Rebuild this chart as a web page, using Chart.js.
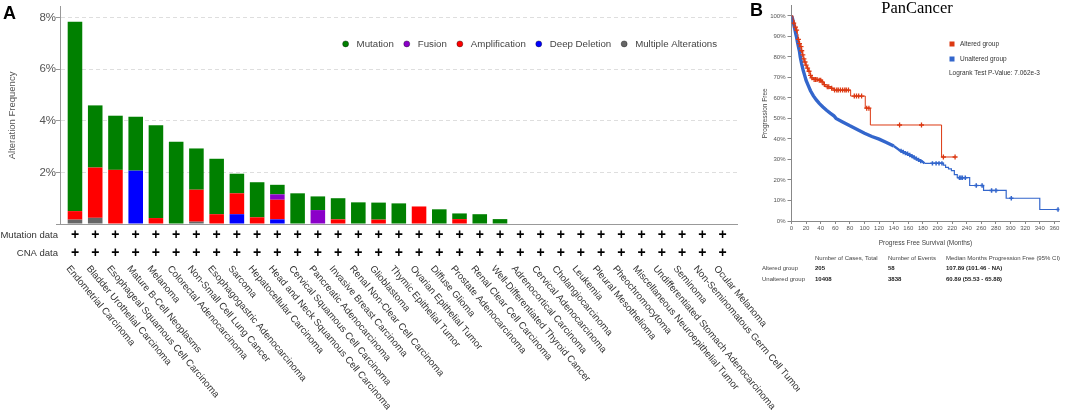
<!DOCTYPE html>
<html>
<head>
<meta charset="utf-8">
<script src="https://cdn.jsdelivr.net/npm/chart.js@4.4.0/dist/chart.umd.min.js"></script>
<style>
  html, body { margin: 0; padding: 0; background: #fff; }
  #wrap { position: relative; width: 1065px; height: 414px; overflow: hidden; }
  #chartA { position: absolute; left: 0; top: 0; }
  #chartB { position: absolute; left: 760px; top: 0; }
  .panel { position: absolute; font: bold 18px 'Liberation Sans', Arial, sans-serif; line-height: 18px; color: #000; }
</style>
</head>
<body>
<div id="wrap">
  <canvas id="chartA" width="800" height="414"></canvas>
  <canvas id="chartB" width="305" height="414"></canvas>
  <div class="panel" style="left:3px;top:4px">A</div>
  <div class="panel" style="left:750px;top:1px">B</div>
</div>
<script>
/*** PANEL A DATA ***/
const cancerTypes = [
  'Endometrial Carcinoma', 'Bladder Urothelial Carcinoma', 'Esophageal Squamous Cell Carcinoma',
  'Mature B-Cell Neoplasms', 'Melanoma', 'Colorectal Adenocarcinoma', 'Non-Small Cell Lung Cancer',
  'Esophagogastric Adenocarcinoma', 'Sarcoma', 'Hepatocellular Carcinoma',
  'Head and Neck Squamous Cell Carcinoma', 'Cervical Squamous Cell Carcinoma',
  'Pancreatic Adenocarcinoma', 'Invasive Breast Carcinoma', 'Renal Non-Clear Cell Carcinoma',
  'Glioblastoma', 'Thymic Epithelial Tumor', 'Ovarian Epithelial Tumor', 'Diffuse Glioma',
  'Prostate Adenocarcinoma', 'Renal Clear Cell Carcinoma', 'Well-Differentiated Thyroid Cancer',
  'Adrenocortical Carcinoma', 'Cervical Adenocarcinoma', 'Cholangiocarcinoma', 'Leukemia',
  'Pleural Mesothelioma', 'Pheochromocytoma', 'Miscellaneous Neuroepithelial Tumor',
  'Undifferentiated Stomach Adenocarcinoma', 'Seminoma', 'Non-Seminomatous Germ Cell Tumor',
  'Ocular Melanoma'
];
const mutation      = [7.34, 2.41, 2.10, 2.09, 3.60, 3.19, 1.60, 2.15, 0.76, 1.36, 0.37, 1.19, 0.53, 0.82, 0.84, 0.66, 0.80, 0, 0.57, 0.22, 0.38, 0.19, 0, 0, 0, 0, 0, 0, 0, 0, 0, 0, 0];
const fusion        = [0, 0, 0, 0, 0, 0, 0, 0, 0, 0, 0.21, 0, 0.54, 0, 0, 0, 0, 0, 0, 0, 0, 0, 0, 0, 0, 0, 0, 0, 0, 0, 0, 0, 0];
const amplification = [0.33, 1.95, 2.10, 0, 0.23, 0, 1.24, 0.38, 0.81, 0.26, 0.76, 0, 0, 0.18, 0, 0.17, 0, 0.68, 0, 0.19, 0, 0, 0, 0, 0, 0, 0, 0, 0, 0, 0, 0, 0];
const deepDeletion  = [0, 0, 0, 2.07, 0, 0, 0, 0, 0.38, 0, 0.18, 0, 0, 0, 0, 0, 0, 0, 0, 0, 0, 0, 0, 0, 0, 0, 0, 0, 0, 0, 0, 0, 0];
const multipleAlt   = [0.17, 0.24, 0, 0, 0, 0, 0.09, 0, 0, 0, 0, 0, 0, 0, 0, 0, 0, 0, 0, 0, 0, 0, 0, 0, 0, 0, 0, 0, 0, 0, 0, 0, 0];
const dataRows = ['Mutation data', 'CNA data'];

/*** PANEL B DATA ***/
const alteredMonths   = [0, 2, 3.5, 5, 6.5, 8, 9, 10.5, 12, 13.5, 15, 16, 17.5, 19, 21, 23.5, 25.5, 27, 30, 36, 41, 44, 47, 53, 57, 81, 101, 108, 205.5, 224];
const alteredSurvival = [100, 98, 96.5, 94.5, 93, 91, 88.5, 86.5, 85, 83, 81, 79, 77.5, 76, 74.5, 73, 71, 69.8, 69, 68.6, 67.8, 66.5, 65.5, 64.7, 63.8, 60.9, 55, 46.8, 31.2, 31.2];
const alteredCensorMonths   = [3, 5.5, 7, 9.5, 11, 13, 14, 15.5, 17, 18.5, 20, 22, 24, 26, 28, 31, 33, 35, 38, 40, 42, 45, 49, 51, 55, 59, 62, 64, 67, 70, 73, 75, 78, 86, 89, 92, 96, 103, 106, 148, 178, 208, 224];
const alteredCensorSurvival = [96.5, 94.5, 93, 88.5, 86.5, 85, 83, 81, 79, 77.5, 76, 74.5, 73, 71, 69.8, 69, 69, 69, 68.6, 68.6, 67.8, 66.5, 65.5, 65.5, 64.7, 63.8, 63.8, 63.8, 63.8, 63.8, 63.8, 63.8, 63.8, 60.9, 60.9, 60.9, 60.9, 55, 55, 46.8, 46.8, 31.2, 31.2];

// unaltered group: dense early part (thousands of small steps) and sparse tail
const unalteredEarlyMonths   = [0, 1.5, 3, 4.5, 6, 7, 8, 9.5, 11, 12, 14, 16, 18, 20, 23, 26, 30, 34, 38, 43, 48, 53, 58, 61, 70, 80, 90, 100, 110, 120, 130, 140, 148, 157, 166, 173, 180, 182];
const unalteredEarlySurvival = [100, 98.5, 96, 93.5, 91, 89.5, 87.5, 85, 82.5, 80, 76.5, 73.5, 71, 68.5, 66, 63.5, 61, 59, 57.3, 55.6, 54, 52.6, 51.3, 50, 48.3, 46.4, 44.6, 42.8, 41.2, 39.9, 38.3, 36.6, 34.5, 33, 31.4, 30, 28.8, 28.1];
const unalteredTailMonths    = [182, 208, 211, 215, 219, 223, 227, 244, 263, 294, 340, 365];
const unalteredTailSurvival  = [28.1, 27.2, 26.1, 25.4, 24.6, 22.6, 21.1, 17.3, 14.9, 11.1, 5.6, 5.6];
const unalteredCensorMonths   = [150, 153, 156, 159, 162, 165, 168, 171, 174, 177, 193, 198, 202, 206, 230, 232, 234, 238, 253, 261, 274, 280, 301, 365];
const unalteredCensorSurvival = [34.2, 33.6, 33.1, 32.8, 32.2, 31.6, 31, 30.4, 29.8, 29.2, 28.1, 28.1, 28.1, 28.1, 21.1, 21.1, 21.1, 21.1, 17.3, 17.3, 14.9, 14.9, 11.1, 5.6];

const groupNames   = ['Altered group', 'Unaltered group'];
const tableHeaders = ['Number of Cases, Total', 'Number of Events', 'Median Months Progression Free (95% CI)'];
const casesTotal   = ['205', '10408'];
const eventCounts  = ['58', '3838'];
const medianMonths = ['107.89 (101.46 - NA)', '60.89 (55.53 - 65.88)'];
const pValueText   = 'Logrank Test P-Value: 7.062e-3';

const FONT = "'Liberation Sans', Arial, sans-serif";
Chart.defaults.font.family = FONT;

/*** PANEL A : ALTERATION FREQUENCY ***/

const cancerLabels = {
  id: 'cancerLabels',
  afterDraw(chart) {
    const {ctx, chartArea} = chart;
    const x = chart.scales.x;
    const rowY = [chartArea.bottom + 11, chartArea.bottom + 29];
    ctx.save();

    // row titles
    ctx.font = '9.5px ' + FONT;
    ctx.fillStyle = '#333';
    ctx.textAlign = 'right';
    ctx.textBaseline = 'middle';
    dataRows.forEach((t, r) => ctx.fillText(t, 58, rowY[r]));

    // plus marks
    ctx.font = 'bold 14px ' + FONT;
    ctx.fillStyle = '#000';
    ctx.textAlign = 'center';
    cancerTypes.forEach((name, i) => {
      const px = x.getPixelForValue(i);
      rowY.forEach(y => ctx.fillText('+', px, y));
    });

    // rotated cancer type names
    ctx.font = '9.7px ' + FONT;
    ctx.fillStyle = '#333';
    ctx.textAlign = 'left';
    cancerTypes.forEach((name, i) => {
      const px = x.getPixelForValue(i);
      ctx.save();
      ctx.translate(px - 7, chartArea.bottom + 43);
      ctx.rotate(50 * Math.PI / 180);
      ctx.fillText(name, 0, 0);
      ctx.restore();
    });

    // legend inside plot
    const items = chart.data.datasets.slice().reverse();
    const dotGap = 11, itemGap = 13;
    let total = -itemGap;
    items.forEach(ds => { total += dotGap + ctx.measureText(ds.label).width + itemGap; });
    let lx = chartArea.right - 20 - total;
    const ly = chartArea.top + 37;
    items.forEach(ds => {
      ctx.beginPath();
      ctx.arc(lx, ly, 3, 0, Math.PI * 2);
      ctx.fillStyle = ds.backgroundColor;
      ctx.fill();
      ctx.lineWidth = 0.8;
      ctx.strokeStyle = 'rgba(0,0,0,0.45)';
      ctx.stroke();
      ctx.fillStyle = '#444';
      ctx.fillText(ds.label, lx + dotGap, ly);
      lx += dotGap + ctx.measureText(ds.label).width + itemGap;
    });
    ctx.restore();
  }
};

new Chart(document.getElementById('chartA'), {
  type: 'bar',
  data: {
    labels: cancerTypes.map((name, i) => i),
    datasets: [
      {label: 'Multiple Alterations', data: multipleAlt, backgroundColor: '#666666'},
      {label: 'Deep Deletion', data: deepDeletion, backgroundColor: '#0000ff'},
      {label: 'Amplification', data: amplification, backgroundColor: '#ff0000'},
      {label: 'Fusion', data: fusion, backgroundColor: '#8b00c9'},
      {label: 'Mutation', data: mutation, backgroundColor: '#008000'}
    ]
  },
  options: {
    responsive: false,
    animation: false,
    layout: {padding: {top: 3, right: 63, bottom: 0, left: 0}},
    plugins: {legend: {display: false}, tooltip: {enabled: false}},
    scales: {
      x: {
        type: 'linear',
        min: -0.74,
        max: 32.71,
        offset: false,
        stacked: true,
        afterFit: s => { s.height = 190; },
        ticks: {display: false},
        grid: {display: false, offset: false},
        border: {color: '#999'}
      },
      y: {
        stacked: true,
        min: 0,
        max: 8.42,
        afterFit: s => { s.width = 60; },
        ticks: {
          stepSize: 2,
          includeBounds: false,
          padding: 0,
          color: '#555',
          font: {size: 11.5},
          callback: v => v === 0 ? '' : v + '%'
        },
        grid: {
          color: c => (c.tick && c.tick.value === 0) ? 'rgba(0,0,0,0)' : '#dedede',
          tickLength: 4,
          tickColor: '#999'
        },
        border: {color: '#999', dash: [4, 3]},
        title: {
          display: true,
          text: 'Alteration Frequency',
          color: '#555',
          font: {size: 9.5},
          padding: {top: 7, bottom: 0}
        }
      }
    }
  },
  plugins: [cancerLabels]
});

/*** PANEL B : KAPLAN-MEIER ***/

const toPoints = (xs, ys) => xs.map((m, i) => ({x: m, y: ys[i]}));

const kmExtras = {
  id: 'kmExtras',
  afterDraw(chart) {
    const {ctx} = chart;
    ctx.save();
    ctx.textBaseline = 'middle';

    // title
    ctx.font = "16.5px 'Liberation Serif', 'Times New Roman', serif";
    ctx.fillStyle = '#000';
    ctx.textAlign = 'center';
    ctx.fillText('PanCancer', 157, 9);

    // legend
    ctx.textAlign = 'left';
    ctx.font = '6.5px ' + FONT;
    const legendSets = [chart.data.datasets[0], chart.data.datasets[2]];
    legendSets.forEach((ds, i) => {
      const y = 44 + i * 15;
      ctx.fillStyle = ds.borderColor;
      ctx.fillRect(189.5, y - 2.5, 5, 5);
      ctx.fillStyle = '#333';
      ctx.fillText(ds.label, 200, y);
    });
    ctx.fillText(pValueText, 189, 73);

    // summary table
    ctx.font = '6px ' + FONT;
    ctx.fillStyle = '#444';
    const colX = [55, 128, 186];
    tableHeaders.forEach((h, c) => ctx.fillText(h, colX[c], 258));
    groupNames.forEach((g, r) => {
      const y = 268 + r * 11;
      ctx.font = '6px ' + FONT;
      ctx.fillStyle = '#444';
      ctx.fillText(g, 2, y);
      ctx.font = 'bold 6px ' + FONT;
      ctx.fillStyle = '#222';
      ctx.fillText(casesTotal[r], colX[0], y);
      ctx.fillText(eventCounts[r], colX[1], y);
      ctx.fillText(medianMonths[r], colX[2], y);
    });
    ctx.restore();
  }
};

new Chart(document.getElementById('chartB'), {
  type: 'line',
  data: {
    datasets: [
      {
        label: 'Altered group',
        data: toPoints(alteredMonths, alteredSurvival),
        borderColor: '#dc3912',
        borderWidth: 1,
        stepped: 'before',
        pointRadius: 0
      },
      {
        label: 'Altered censored',
        data: toPoints(alteredCensorMonths, alteredCensorSurvival),
        borderColor: '#dc3912',
        showLine: false,
        pointStyle: 'cross',
        pointRadius: 2.5,
        pointBorderWidth: 1.3
      },
      {
        label: 'Unaltered group',
        data: toPoints(unalteredEarlyMonths, unalteredEarlySurvival),
        borderColor: '#3366cc',
        borderWidth: 3.2,
        pointRadius: 0,
        segment: {
          borderWidth: c => c.p1.parsed.x <= 140 ? 3.4 : 2.4
        }
      },
      {
        label: 'Unaltered tail',
        data: toPoints(unalteredTailMonths, unalteredTailSurvival),
        borderColor: '#3366cc',
        borderWidth: 1.2,
        stepped: 'before',
        pointRadius: 0
      },
      {
        label: 'Unaltered censored',
        data: toPoints(unalteredCensorMonths, unalteredCensorSurvival),
        borderColor: '#3366cc',
        showLine: false,
        pointStyle: 'cross',
        pointRadius: 2.2,
        pointBorderWidth: 1.5
      }
    ]
  },
  options: {
    responsive: false,
    animation: false,
    layout: {padding: {top: 3, right: 5, bottom: 163, left: 0}},
    plugins: {legend: {display: false}, tooltip: {enabled: false}},
    scales: {
      x: {
        type: 'linear',
        min: 0,
        max: 367,
        afterFit: s => { s.height = 30; },
        ticks: {stepSize: 20, includeBounds: false, autoSkip: false, maxRotation: 0, color: '#555', font: {size: 6}, padding: 0.5},
        grid: {drawOnChartArea: false, tickLength: 3, tickColor: '#888'},
        border: {color: '#888'},
        title: {display: true, text: 'Progress Free Survival (Months)', color: '#444', font: {size: 6.5}, padding: {top: 0, bottom: 4}}
      },
      y: {
        min: 0,
        max: 105,
        afterFit: s => { s.width = 31.5; },
        ticks: {stepSize: 10, includeBounds: false, color: '#555', font: {size: 6}, padding: 2, callback: v => v + '%'},
        grid: {drawOnChartArea: false, tickLength: 4, tickColor: '#888'},
        border: {color: '#888'},
        title: {display: true, text: 'Progression Free', color: '#444', font: {size: 6.5}, padding: {top: 1, bottom: 0}}
      }
    }
  },
  plugins: [kmExtras]
});
</script>
</body>
</html>
